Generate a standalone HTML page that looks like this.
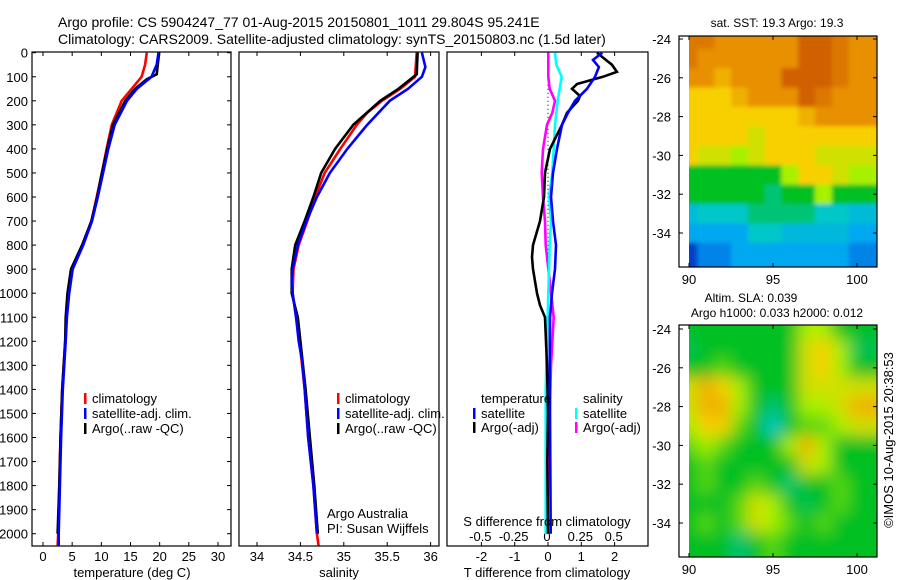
<!DOCTYPE html>
<html><head><meta charset="utf-8">
<style>
html,body{margin:0;padding:0;background:#fff;}
svg{display:block;font-family:"Liberation Sans",sans-serif;}
text{fill:#000;}
</style></head>
<body>
<svg id="chart" width="900" height="580" viewBox="0 0 900 580" xmlns="http://www.w3.org/2000/svg">
<defs>
<clipPath id="clipSST"><rect x="689" y="36" width="188" height="231"/></clipPath>
<clipPath id="clipSLA"><rect x="689" y="325" width="188" height="232"/></clipPath>
<filter id="blurSLA" x="-5%" y="-5%" width="110%" height="110%"><feGaussianBlur stdDeviation="8"/></filter>
<filter id="blurSST" x="-5%" y="-5%" width="110%" height="110%"><feGaussianBlur stdDeviation="2"/></filter>
</defs>
<text x="58" y="27" font-size="14">Argo profile: CS 5904247_77 01-Aug-2015 20150801_1011 29.804S 95.241E</text>
<text x="58" y="44" font-size="14">Climatology: CARS2009. Satellite-adjusted climatology: synTS_20150803.nc (1.5d later)</text>
<g id="g1"></g>
<g id="g2"></g>
<g id="g3"></g>
<g id="g4"></g>
<g id="g5"></g>
<text x="0" y="0" font-size="13" text-anchor="middle" transform="translate(893,440) rotate(-90)">©IMOS 10-Aug-2015 20:38:53</text>
</svg>
<script>
// ---------- data ----------
const depthTicks=[0,100,200,300,400,500,600,700,800,900,1000,1100,1200,1300,1400,1500,1600,1700,1800,1900,2000];
const tempTicks=[0,5,10,15,20,25,30];
const salTicks=[34,34.5,35,35.5,36];
const salTickLabels=["34","34.5","35","35.5","36"];
const dTTicks=[-2,-1,0,1,2];
const dSTicks=[-0.5,-0.25,0,0.25,0.5];
const dSTickLabels=["-0.5","-0.25","0","0.25","0.5"];

const climTDepth=[0,50,100,150,200,300,400,500,600,700,800,900,1000,1100,1200,1400,1600,1800,2000,2050];
const climT=[17.8,17.5,16.9,15.2,13.5,11.8,10.9,10.1,9.2,8.3,6.8,5.0,4.4,4.0,3.8,3.3,3.0,2.8,2.6,2.5];
const satT=[19.8,19.5,18.6,16.1,14.4,12.3,11.2,10.3,9.4,8.4,6.9,5.1,4.5,4.1,3.9,3.4,3.1,2.9,2.7,2.7];
const argoTDepth=[0,90,110,150,200,300,400,500,600,700,800,900,1000,1100,1200,1400,1600,1800,2000];
const argoT=[19.9,19.5,17.8,15.8,14.1,12.0,11.0,10.1,9.3,8.3,6.7,4.8,4.2,3.9,3.8,3.3,3.0,2.8,2.5];

const climSDepth=[0,100,150,200,250,300,400,500,600,700,800,900,1000,1100,1200,1400,1600,1800,2000,2050];
const climS=[35.84,35.82,35.65,35.44,35.27,35.15,34.96,34.78,34.67,34.58,34.48,34.42,34.41,34.45,34.49,34.55,34.59,34.65,34.69,34.71];
const satSDepth=[0,60,100,150,200,300,400,500,600,700,800,900,950,1000,1100,1200,1280,1400,1600,1800,2000];
const satS=[35.9,35.94,35.9,35.74,35.53,35.27,35.04,34.84,34.69,34.57,34.47,34.41,34.40,34.41,34.45,34.48,34.52,34.55,34.59,34.65,34.69];
const argoSDepth=[0,90,150,200,300,400,500,600,700,800,900,1000,1100,1200,1400,1600,1800,2000];
const argoS=[35.85,35.84,35.63,35.42,35.11,34.9,34.74,34.65,34.55,34.44,34.40,34.40,34.47,34.50,34.56,34.61,34.66,34.70];

const dTsatDepth=[0,30,60,100,150,200,250,300,400,500,600,700,800,900,1000,1100,1300,1500,1700,2000];
const dTsat=[1.63,1.35,1.53,1.41,1.17,0.81,0.6,0.42,0.27,0.15,0.09,0.15,0.24,0.21,0.12,0.06,0.05,0.06,0.07,0.08];
const dTargoDepth=[0,20,50,80,100,130,150,180,200,250,300,400,500,600,700,800,850,900,1000,1050,1100,1300,1500,1700,2000];
const dTargo=[1.47,1.65,1.92,2.07,1.65,0.87,0.72,0.96,0.9,0.57,0.42,0.06,-0.09,-0.12,-0.24,-0.45,-0.48,-0.45,-0.33,-0.24,-0.09,-0.03,0.0,-0.02,0.0];
const dSsatDepth=[0,50,100,200,300,400,500,600,700,800,1000,1200,1400,1600,1800,2000];
const dSsat=[0.06,0.07,0.11,0.08,0.06,0.05,0.04,0.015,0.03,0.02,0.01,0.0,-0.01,-0.01,-0.01,-0.01];
const dSargoDepth=[0,100,150,200,250,300,400,500,600,700,800,1100,1300,1500,1700,2000];
const dSargo=[0.01,0.01,0.02,0.06,0.04,0.0,-0.03,-0.04,-0.03,-0.015,-0.01,0.05,0.03,0.02,0.01,0.0];

const mapLonTicks=[90,95,100];
const mapLatTicks=[-24,-26,-28,-30,-32,-34];
const gridLons=[90,91,92,93,94,95,96,97,98,99,100];
const gridLats=[-24,-25,-26,-27,-28,-29,-30,-31,-32,-33,-34,-35];
const sstGrid=[
[8.5,8.5,8,8,8,8,8,9,9,8.5,8],
[8.5,8,8,8,8,8,8,9,9,8.5,8],
[8,8,7.5,8,8,8,9,9,9,8.5,8],
[7,7,7,7.5,8,8,8,9,8.5,8,8],
[7,7,7,7,7,7,7,7.5,8,8,8],
[7,7,7,7,6.5,7,7,7,7,7,7],
[7,6.5,6.5,6,6.5,7,7,7,6.5,6.5,6.5],
[5,5,5,5,5,5,6,7,7,6.5,6],
[5,5,5,5,5,4.5,5,5,6,5,5],
[3.6,4,4,4,4.5,4.5,4.5,4.5,4,4,3.6],
[3,3,3,3,4,4,3.5,3.5,3.5,3.5,3],
[1.5,2.5,2.5,3,3,3,3,3,3,3,2.5]];
const slaGrid=[
[5,5,5,5,5,5,5,6,6,5,5],
[4.7,5,5,5,5,5,5,6.5,7,6,4.7],
[5,5,5.5,5,5,5,5,6.5,7,6,5],
[6.5,7.5,7,6,5,5,5,6.5,6.5,6.5,6.5],
[6.5,7.5,7.5,6,5,4.5,5,6,6,6.5,7.5],
[6,7,7,5.5,5,4,5,5.5,5.5,6,6.5],
[5.5,6,5.5,5,5,5,6,7.5,6,5,5],
[5,5.5,5,5,5,5,5,6.5,6,5,5],
[5,5.5,5,5,5.5,5,4.5,5,5,5.5,5],
[5,5,5,5.5,6.5,6,5,4.7,5,5.5,5],
[5,5.5,5,5.5,6.5,6,5.5,5,5.5,5,5],
[5,5,5,4.5,5,5.5,5,5,5,5,5]];

// ---------- helpers ----------
const NS="http://www.w3.org/2000/svg";
function mk(parent,tag,attrs,txt){const e=document.createElementNS(NS,tag);for(const k in attrs)e.setAttribute(k,attrs[k]);if(txt!==undefined)e.textContent=txt;parent.appendChild(e);return e;}
const yD=d=>52.7+d*0.2405;
const xT=t=>43+t*5.833;
const xS=s=>257+(s-34)*86.8;
const xdT=v=>548+v*33.3;
const xdS=v=>547+v*133.3;
const TOP=52,BOT=546;

function panel(g,x0,x1,ticks,fx,labels,leftTicks){
  const r=mk(g,'rect',{x:x0,y:TOP,width:x1-x0,height:BOT-TOP,fill:'none',stroke:'#000','stroke-width':1.2});
  
  
  ticks.forEach((t,i)=>{const x=fx(t);
    mk(g,'line',{x1:x,x2:x,y1:BOT,y2:BOT-4,stroke:'#000'});
    mk(g,'line',{x1:x,x2:x,y1:TOP,y2:TOP+4,stroke:'#000'});
    if(labels){const tx=mk(g,'text',{x:x,y:561,'font-size':13,'text-anchor':'middle'},labels[i]);
      
      }
  });
  if(leftTicks){depthTicks.forEach(d=>{const y=yD(d);
    mk(g,'line',{x1:x0,x2:x0+4,y1:y,y2:y,stroke:'#000'});
    mk(g,'line',{x1:x1,x2:x1-4,y1:y,y2:y,stroke:'#000'});});}
}
function line(g,xs,ds,fx,color,w,name){
  let pts=[];
  for(let i=0;i<xs.length;i++){pts.push(fx(xs[i]).toFixed(1)+','+yD(ds[i]).toFixed(1));}
  const p=mk(g,'polyline',{points:pts.join(' '),fill:'none',stroke:color,'stroke-width':w,'stroke-linejoin':'miter'});
  
  
}
function legend(g,x,y,color,label,name){
  mk(g,'rect',{x:x,y:y-5,width:2.5,height:11,fill:color});
  const t=mk(g,'text',{x:x+8,y:y+5,'font-size':13},label);
  
  
}

// ---------- panel 1: temperature ----------
const g1=document.getElementById('g1');
panel(g1,32,231,tempTicks,xT,tempTicks.map(String),true);
depthTicks.forEach(d=>{const t=mk(g1,'text',{x:28,y:yD(d)+5,'font-size':13,'text-anchor':'end'},String(d));
  
  });
line(g1,climT,climTDepth,xT,'#ff0000',2.6,'temp-climatology-line');
line(g1,argoT,argoTDepth,xT,'#000000',2.6,'temp-argo-line');
line(g1,satT,climTDepth,xT,'#0000ff',2.6,'temp-satellite-line');
legend(g1,84,398,'#ff0000','climatology','legend-climatology');
legend(g1,84,413,'#0000ff','satellite-adj. clim.','legend-satellite');
legend(g1,84,428,'#000000','Argo(..raw -QC)','legend-argo');
(function(){const t=mk(g1,'text',{x:132,y:577,'font-size':13,'text-anchor':'middle'},'temperature (deg C)');
})();

// ---------- panel 2: salinity ----------
const g2=document.getElementById('g2');
panel(g2,239,439,salTicks,xS,salTickLabels,false);
line(g2,climS,climSDepth,xS,'#ff0000',2.6,'sal-climatology-line');
line(g2,argoS,argoSDepth,xS,'#000000',2.6,'sal-argo-line');
line(g2,satS,satSDepth,xS,'#0000ff',2.6,'sal-satellite-line');
legend(g2,337,398,'#ff0000','climatology','legend-climatology');
legend(g2,337,413,'#0000ff','satellite-adj. clim.','legend-satellite');
legend(g2,337,428,'#000000','Argo(..raw -QC)','legend-argo');
(function(){let t=mk(g2,'text',{x:327,y:518,'font-size':13},'Argo Australia');

t=mk(g2,'text',{x:327,y:533,'font-size':13},'PI: Susan Wijffels');

t=mk(g2,'text',{x:339,y:577,'font-size':13,'text-anchor':'middle'},'salinity');
})();

// ---------- panel 3: differences ----------
const g3=document.getElementById('g3');
panel(g3,447,648,dTTicks,xdT,dTTicks.map(String),false);
dSTicks.forEach((v,i)=>{const t=mk(g3,'text',{x:xdS(v),y:541,'font-size':13,'text-anchor':'middle'},dSTickLabels[i]);
  });
mk(g3,'line',{x1:xdT(0),x2:xdT(0),y1:yD(0),y2:yD(1000),stroke:'#000','stroke-dasharray':'1,3'});
line(g3,dSargo,dSargoDepth,xdS,'#ff00ff',2.6,'s-argo-diff-line');
line(g3,dSsat,dSsatDepth,xdS,'#00ffff',2.6,'s-satellite-diff-line');
line(g3,dTargo,dTargoDepth,xdT,'#000000',2.6,'t-argo-diff-line');
line(g3,dTsat,dTsatDepth,xdT,'#0000ff',2.6,'t-satellite-diff-line');
(function(){let t=mk(g3,'text',{x:481,y:403,'font-size':13},'temperature');

t=mk(g3,'text',{x:583,y:403,'font-size':13},'salinity');
})();
legend(g3,473,413,'#0000ff','satellite','legend-t-satellite');
legend(g3,473,427,'#000000','Argo(-adj)','legend-t-argo');
legend(g3,575,413,'#00ffff','satellite','legend-s-satellite');
legend(g3,575,427,'#ff00ff','Argo(-adj)','legend-s-argo');
(function(){let t=mk(g3,'text',{x:547,y:526,'font-size':13,'text-anchor':'middle'},'S difference from climatology');

t=mk(g3,'text',{x:547,y:577,'font-size':13,'text-anchor':'middle'},'T difference from climatology');
})();

// ---------- maps ----------
const stops=['#00005a','#0020b0','#0060e0','#00a8f0','#00c8c8','#00c020','#a8f000','#f8d000','#e89000','#d06000','#b02000'];
function hex(c){return [parseInt(c.substr(1,2),16),parseInt(c.substr(3,2),16),parseInt(c.substr(5,2),16)];}
function cmap(v){v=Math.max(0,Math.min(10,v));const i=Math.min(9,Math.floor(v)),f=v-i;const a=hex(stops[i]),b=hex(stops[i+1]);
  return 'rgb('+a.map((x,k)=>Math.round(x+(b[k]-x)*f)).join(',')+')';}
const mx=l=>689+(l-90)*16.8;
function drawMap(g,grid,y0,top,bot,clip,filt){
  const my=la=>y0+(-24-la)*19.4;
  const cg=mk(g,'g',{'clip-path':'url(#'+clip+')'});
  const ig=mk(cg,'g',{filter:'url(#'+filt+')'});
  grid.forEach((row,r)=>row.forEach((v,c)=>{
    const la=gridLats[r],lo=gridLons[c];
    const x=mx(lo-0.5<90?lo-1.5:lo-0.5), w=(lo===90?mx(90.5)-mx(88.5):(lo===100?mx(102)-mx(99.5):16.8));
    const y=my(la+0.5+(la===-24?1.5:0)), h=(la===-24?my(-24.5)-my(-22):(la===-35?my(-37)-my(-34.5):19.4));
    const cell=mk(ig,'rect',{x:x,y:y,width:w+0.5,height:h+0.5,fill:cmap(v)});
    
    
  }));
  mk(g,'rect',{x:679,y:top,width:198,height:bot-top,fill:'none',stroke:'#000','stroke-width':1.2});
  mapLonTicks.forEach(l=>{const x=mx(l);mk(g,'line',{x1:x,x2:x,y1:top,y2:top+4,stroke:'#000'});mk(g,'line',{x1:x,x2:x,y1:bot,y2:bot-4,stroke:'#000'});
    const t=mk(g,'text',{x:x,y:bot+17,'font-size':13,'text-anchor':'middle'},String(l));
    });
  mapLatTicks.forEach(la=>{const y=my(la);mk(g,'line',{x1:679,x2:683,y1:y,y2:y,stroke:'#000'});mk(g,'line',{x1:877,x2:873,y1:y,y2:y,stroke:'#000'});
    const t=mk(g,'text',{x:671,y:y+5,'font-size':13,'text-anchor':'end'},String(la));
    });
}
const g4=document.getElementById('g4');
drawMap(g4,sstGrid,39,36,267,'clipSST','blurSST');
(function(){const t=mk(g4,'text',{x:777,y:27,'font-size':12,'text-anchor':'middle'},'sat. SST: 19.3 Argo: 19.3');
})();
const g5=document.getElementById('g5');
drawMap(g5,slaGrid,329,325,557,'clipSLA','blurSLA');
(function(){let t=mk(g5,'text',{x:751,y:302,'font-size':12,'text-anchor':'middle'},'Altim. SLA: 0.039');

t=mk(g5,'text',{x:777,y:317,'font-size':12,'text-anchor':'middle'},'Argo h1000: 0.033 h2000: 0.012');
})();
</script>
</body></html>
